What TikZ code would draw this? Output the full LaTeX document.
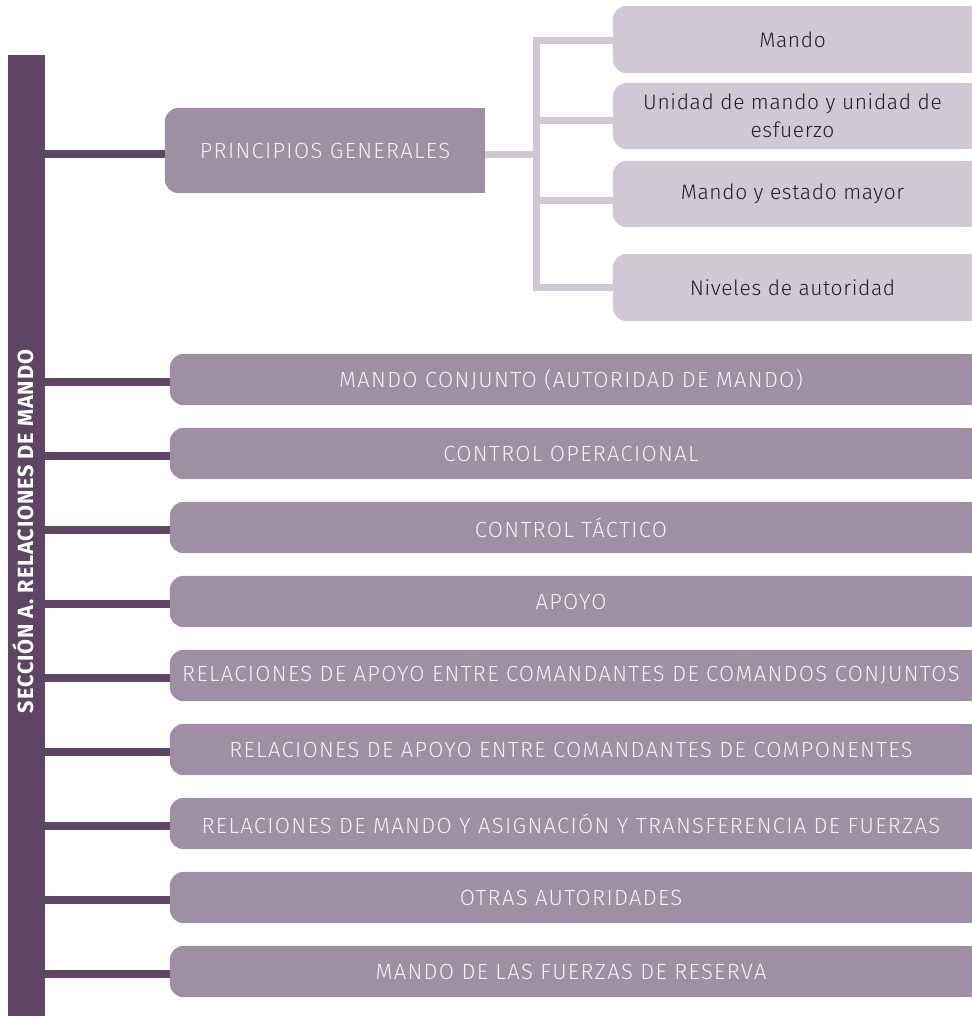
\documentclass[tikz,border=0pt]{standalone}
\usepackage{fontspec}
\usepackage{graphicx}
\IfFontExistsTF{Fira Sans Light}{\newfontfamily\boxfont{Fira Sans Light}[LetterSpace=6]\newfontfamily\subfont{Fira Sans Light}[LetterSpace=3]}{\newfontfamily\boxfont{Fira Sans}[LetterSpace=6]\newfontfamily\subfont{Fira Sans}[LetterSpace=3]}
\newfontfamily\barfont{Fira Sans}[LetterSpace=4]
\usetikzlibrary{backgrounds,calc}
\definecolor{dk}{RGB}{94,69,99}
\definecolor{md}{RGB}{160,142,165}
\definecolor{lt}{RGB}{209,200,214}
\definecolor{wt}{RGB}{246,240,246}
\definecolor{tx}{RGB}{35,31,32}
\tikzset{
  mainbox/.style={inner sep=0pt, minimum width=802pt, minimum height=51pt, text=wt, font=\boxfont\fontsize{22}{26}\selectfont},
  subbox/.style={inner sep=0pt, minimum width=359pt, minimum height=67pt, text=tx, align=center, font=\subfont\fontsize{21}{28}\selectfont},
  dkline/.style={draw=dk, line width=8pt},
  ltline/.style={draw=lt, line width=7pt},
}
\newcommand{\leftround}[2]{%
  \fill[#2, rounded corners=14pt] (#1.south west) rectangle (#1.north east);
  \fill[#2] (#1.south) rectangle (#1.north east);}
\begin{document}
\begin{tikzpicture}[x=1pt,y=-1pt]
\useasboundingbox (0,0) rectangle (972,1018);
% vertical bar
\node[fill=dk, inner sep=0pt, minimum width=37pt, minimum height=961pt] (bar) at (26.5,535.5) {};
\node[rotate=90, anchor=base, inner sep=0pt, text=white] (bartitle) at (33,531.5) {\resizebox{363pt}{\height}{\barfont\bfseries\fontsize{22}{26}\selectfont SECCIÓN A. RELACIONES DE MANDO}};
% principios generales
\node[inner sep=0pt, minimum width=320pt, minimum height=85pt, text=wt, font=\boxfont\fontsize{22}{26}\selectfont] (pg) at (325,150.5) {PRINCIPIOS GENERALES};
% sub boxes
\node[subbox] (m1) at (792.5,39.5) {Mando};
\node[subbox, minimum height=66pt] (m2) at (792.5,116) {Unidad de mando y unidad de\\esfuerzo};
\node[subbox, minimum height=66pt] (m3) at (792.5,194) {Mando y estado mayor};
\node[subbox] (m4) at (792.5,287.5) {Niveles de autoridad};
% main boxes
\node[mainbox] (b1) at (571,379.5) {MANDO CONJUNTO (AUTORIDAD DE MANDO)};
\node[mainbox] (b2) at (571,453.5) {CONTROL OPERACIONAL};
\node[mainbox] (b3) at (571,527.5) {CONTROL TÁCTICO};
\node[mainbox] (b4) at (571,601.5) {APOYO};
\node[mainbox] (b5) at (571,675.5) {RELACIONES DE APOYO ENTRE COMANDANTES DE COMANDOS CONJUNTOS};
\node[mainbox] (b6) at (571,749.5) {RELACIONES DE APOYO ENTRE COMANDANTES DE COMPONENTES};
\node[mainbox] (b7) at (571,823.5) {RELACIONES DE MANDO Y ASIGNACIÓN Y TRANSFERENCIA DE FUERZAS};
\node[mainbox] (b8) at (571,897.5) {OTRAS AUTORIDADES};
\node[mainbox] (b9) at (571,971.5) {MANDO DE LAS FUERZAS DE RESERVA};
% spine coordinates
\coordinate (s1) at (536,40);
\coordinate (s2) at (536,120);
\coordinate (s3) at (536,200);
\coordinate (s4) at (536,287);
\coordinate (sp) at (536,154);
\begin{pgfonlayer}{background}
  \leftround{pg}{md}
  \foreach \n in {m1,m2,m3,m4}{\leftround{\n}{lt}}
  \foreach \n in {b1,b2,b3,b4,b5,b6,b7,b8,b9}{\leftround{\n}{md}}
  % dark connectors
  \draw[dkline] (bar.east |- 0,154) -- (pg.west |- 0,154);
  \foreach \n in {b1,b2,b3,b4,b5,b6,b7,b8,b9}{\draw[dkline] ($(\n.west)+(0,2)$) -- ($(\n.west -| bar.east)+(0,2)$);}
  % light connectors
  \draw[ltline, line join=miter] (m1.west |- s1) -- (s1) -- (s4) -- (m4.west |- s4);
  \draw[ltline] (pg.east |- sp) -- (sp);
  \draw[ltline] (s2) -- (m2.west |- s2);
  \draw[ltline] (s3) -- (m3.west |- s3);
\end{pgfonlayer}
\end{tikzpicture}
\end{document}
